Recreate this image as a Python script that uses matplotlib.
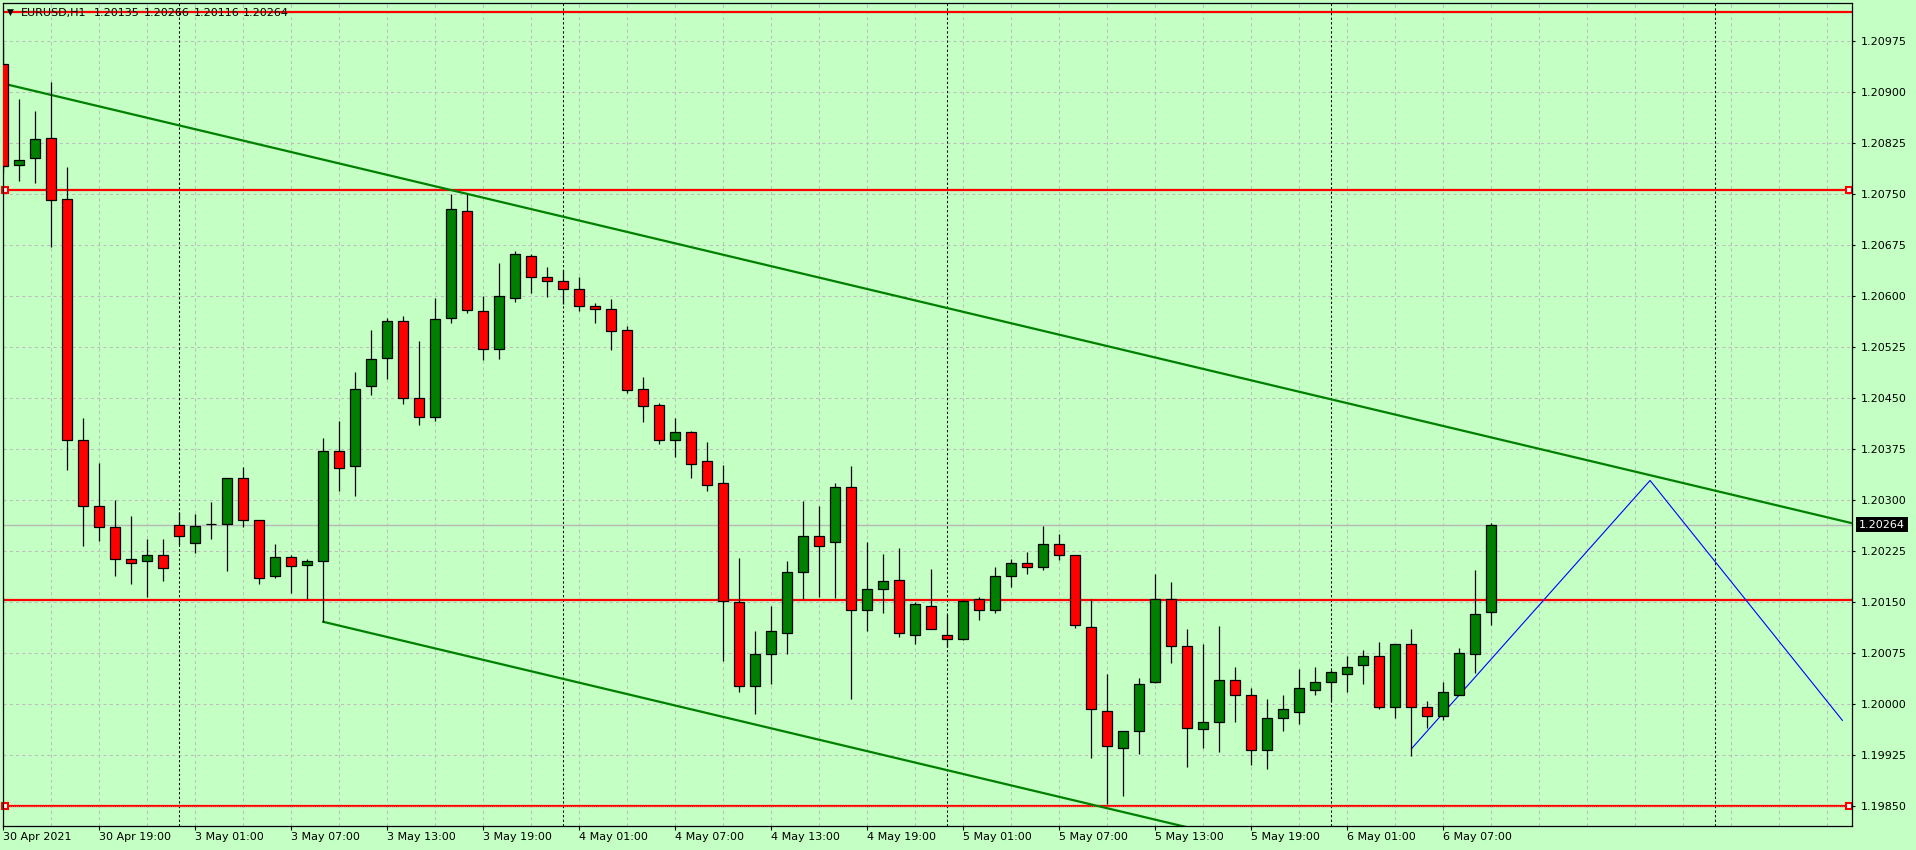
import matplotlib
matplotlib.use('Agg')
import matplotlib.pyplot as plt
import matplotlib.transforms as mtransforms
import numpy as np

# ---------------- data ----------------
opens = [1.20942, 1.20793, 1.20803, 1.20833, 1.20743, 1.20388, 1.20292, 1.20260, 1.20214, 1.20210,
         1.20220, 1.20264, 1.20237, 1.20265, 1.20265, 1.20332, 1.20271, 1.20188, 1.20217, 1.20204,
         1.20210, 1.20372, 1.20350, 1.20468, 1.20509, 1.20564, 1.20450, 1.20423, 1.20568, 1.20725,
         1.20578, 1.20522, 1.20597, 1.20659, 1.20628, 1.20622, 1.20611, 1.20585, 1.20582, 1.20551,
         1.20463, 1.20440, 1.20388, 1.20400, 1.20357, 1.20325, 1.20150, 1.20026, 1.20073, 1.20105,
         1.20195, 1.20248, 1.20238, 1.20320, 1.20139, 1.20169, 1.20182, 1.20102, 1.20145, 1.20101,
         1.20095, 1.20154, 1.20139, 1.20189, 1.20208, 1.20201, 1.20235, 1.20219, 1.20114, 1.19990,
         1.19936, 1.19961, 1.20032, 1.20155, 1.20086, 1.19964, 1.19973, 1.20035, 1.20014, 1.19933,
         1.19980, 1.19989, 1.20020, 1.20032, 1.20044, 1.20057, 1.20070, 1.19995, 1.20088, 1.19995,
         1.19983, 1.20014, 1.20073, 1.20135]
highs = [1.20972, 1.20891, 1.20872, 1.20916, 1.20790, 1.20421, 1.20354, 1.20300, 1.20277, 1.20243,
         1.20243, 1.20282, 1.20279, 1.20297, 1.20332, 1.20349, 1.20271, 1.20235, 1.20220, 1.20213,
         1.20391, 1.20416, 1.20488, 1.20550, 1.20568, 1.20571, 1.20534, 1.20598, 1.20750, 1.20751,
         1.20600, 1.20649, 1.20666, 1.20662, 1.20643, 1.20639, 1.20628, 1.20590, 1.20596, 1.20556,
         1.20481, 1.20443, 1.20421, 1.20402, 1.20385, 1.20352, 1.20215, 1.20108, 1.20144, 1.20210,
         1.20299, 1.20291, 1.20326, 1.20350, 1.20238, 1.20221, 1.20230, 1.20150, 1.20199, 1.20133,
         1.20153, 1.20157, 1.20201, 1.20214, 1.20223, 1.20262, 1.20250, 1.20219, 1.20154, 1.20044,
         1.19961, 1.20039, 1.20191, 1.20179, 1.20110, 1.20088, 1.20115, 1.20054, 1.20023, 1.20007,
         1.20014, 1.20051, 1.20054, 1.20050, 1.20070, 1.20079, 1.20092, 1.20089, 1.20111, 1.20004,
         1.20033, 1.20082, 1.20197, 1.20266]
lows = [1.20781, 1.20770, 1.20766, 1.20673, 1.20344, 1.20233, 1.20240, 1.20188, 1.20177, 1.20157,
        1.20181, 1.20234, 1.20222, 1.20243, 1.20196, 1.20260, 1.20176, 1.20186, 1.20163, 1.20154,
        1.20121, 1.20314, 1.20306, 1.20455, 1.20479, 1.20441, 1.20410, 1.20417, 1.20560, 1.20576,
        1.20506, 1.20508, 1.20591, 1.20605, 1.20599, 1.20588, 1.20578, 1.20560, 1.20521, 1.20457,
        1.20415, 1.20383, 1.20363, 1.20332, 1.20314, 1.20064, 1.20017, 1.19985, 1.20030, 1.20073,
        1.20155, 1.20158, 1.20156, 1.20008, 1.20107, 1.20134, 1.20098, 1.20088, 1.20111, 1.20084,
        1.20094, 1.20123, 1.20134, 1.20172, 1.20192, 1.20197, 1.20212, 1.20112, 1.19921, 1.19853,
        1.19865, 1.19926, 1.20031, 1.20061, 1.19908, 1.19936, 1.19930, 1.19973, 1.19910, 1.19905,
        1.19961, 1.19970, 1.20014, 1.20005, 1.20017, 1.20029, 1.19993, 1.19979, 1.19923, 1.19965,
        1.19976, 1.20014, 1.20045, 1.20116]
closes = [1.20792, 1.20800, 1.20831, 1.20741, 1.20388, 1.20292, 1.20260, 1.20214, 1.20207, 1.20220,
          1.20200, 1.20248, 1.20262, 1.20265, 1.20332, 1.20271, 1.20186, 1.20217, 1.20203, 1.20211,
          1.20372, 1.20348, 1.20463, 1.20507, 1.20564, 1.20450, 1.20422, 1.20566, 1.20729, 1.20580,
          1.20522, 1.20600, 1.20662, 1.20628, 1.20622, 1.20611, 1.20585, 1.20582, 1.20549, 1.20462,
          1.20439, 1.20388, 1.20400, 1.20353, 1.20323, 1.20151, 1.20027, 1.20073, 1.20107, 1.20194,
          1.20248, 1.20232, 1.20319, 1.20138, 1.20170, 1.20181, 1.20105, 1.20147, 1.20111, 1.20095,
          1.20152, 1.20139, 1.20189, 1.20207, 1.20202, 1.20235, 1.20219, 1.20117, 1.19992, 1.19939,
          1.19961, 1.20029, 1.20154, 1.20086, 1.19965, 1.19973, 1.20036, 1.20014, 1.19932, 1.19980,
          1.19992, 1.20024, 1.20032, 1.20047, 1.20055, 1.20070, 1.19995, 1.20088, 1.19995, 1.19983,
          1.20017, 1.20075, 1.20133, 1.20264]

time_label_idx = [0, 6, 12, 18, 24, 30, 36, 42, 48, 54, 60, 66, 72, 78, 84, 90]
time_labels = ["30 Apr 2021", "30 Apr 19:00", "3 May 01:00", "3 May 07:00", "3 May 13:00",
               "3 May 19:00", "4 May 01:00", "4 May 07:00", "4 May 13:00", "4 May 19:00",
               "5 May 01:00", "5 May 07:00", "5 May 13:00", "5 May 19:00", "6 May 01:00",
               "6 May 07:00"]
price_ticks = [1.19850, 1.19925, 1.20000, 1.20075, 1.20150, 1.20225, 1.20300, 1.20375,
               1.20450, 1.20525, 1.20600, 1.20675, 1.20750, 1.20825, 1.20900, 1.20975]
day_separators = [11, 35, 59, 83, 107]
red_levels = [1.21018, 1.20757, 1.20153, 1.19850]
upper_trend_x = [0.0, 115.56]
upper_trend_y = [1.20913, 1.20266]
lower_trend_x0, lower_trend_y0 = 20.0, 1.20121
zigzag_x = [88.0, 102.92, 114.94]
zigzag_y = [1.19934, 1.20329, 1.19976]
bid_price = 1.20264
title_parts = ["EURUSD,H1", "1.20135", "1.20266", "1.20116", "1.20264"]

# ---------------- style ----------------
BG = '#C4FFC4'
GREEN = '#008000'
RED = '#FF0000'
GRID = '#BEBEBE'
W, H = 1916, 850
XMIN, XMAX = -0.0375, 115.56
YMIN, YMAX = 1.19821, 1.21032

plt.rcParams['font.family'] = ['DejaVu Sans']

fig = plt.figure(figsize=(W / 100, H / 100), dpi=100, facecolor=BG)
ax = fig.add_axes([2.7 / W, 1 - 825.7 / H, (1852.3 - 2.7) / W, (825.7 - 2.7) / H])
ax.set_facecolor(BG)
ax.set_xlim(XMIN, XMAX)
ax.set_ylim(YMIN, YMAX)

# grid
for gx in range(0, 116, 3):
    ax.axvline(gx, color=GRID, lw=0.75, ls=(0, (3, 3)), zorder=1)
for gy in price_ticks:
    ax.axhline(gy, color=GRID, lw=0.75, ls=(0, (3, 3)), zorder=1)
for dx in day_separators:
    ax.axvline(dx, color='black', lw=0.75, ls=(0, (2.2, 2.2)), zorder=1.5)

# bid line
ax.axhline(bid_price, color='#B8B8B8', lw=1.0, zorder=1.6)

# red horizontal levels
for lv in red_levels:
    ax.axhline(lv, color=RED, lw=1.6, zorder=2)
ax.axhline(red_levels[3], color='white', lw=0.5, ls=(0, (1.2, 1.8)), alpha=0.6, zorder=2.1)
for lv in (red_levels[1], red_levels[3]):
    ax.plot([0.1, 115.36], [lv, lv], ls='none', marker='s', ms=4.5, mfc='white',
            mec=RED, mew=1.5, zorder=2.2, clip_on=False)

# trend channel
slope = (upper_trend_y[1] - upper_trend_y[0]) / (upper_trend_x[1] - upper_trend_x[0])
ax.plot(upper_trend_x, upper_trend_y, color=GREEN, lw=1.6, zorder=2.5)
lx = [lower_trend_x0, XMAX]
ly = [lower_trend_y0, lower_trend_y0 + slope * (XMAX - lower_trend_x0)]
ax.plot(lx, ly, color=GREEN, lw=1.6, zorder=2.5)

# zigzag
ax.plot(zigzag_x, zigzag_y, color='#0000FF', lw=0.8, zorder=2.6)

# candles
xs = np.arange(len(opens))
o = np.array(opens); h = np.array(highs); l = np.array(lows); c = np.array(closes)
cols = [GREEN if cc > oo else RED for oo, cc in zip(o, c)]
ax.vlines(xs, l, h, color='black', lw=0.9, zorder=3)
bottoms = np.minimum(o, c)
heights = np.abs(c - o)
ax.bar(xs, heights, bottom=bottoms, width=0.62, color=cols, edgecolor='black',
       linewidth=0.9, zorder=4)

# axes / ticks
for sp in ax.spines.values():
    sp.set_color('black')
    sp.set_linewidth(0.9)
ax.yaxis.tick_right()
ax.set_yticks(price_ticks)
ax.set_yticklabels([f"{v:.5f}" for v in price_ticks])
ax.tick_params(axis='y', direction='out', length=2, width=0.8, pad=4.5, labelsize=8,
               colors='black')
ax.set_xticks(time_label_idx)
ax.set_xticklabels(time_labels, ha='left')
ax.tick_params(axis='x', direction='out', length=3, width=0.8, pad=1.5, labelsize=8,
               colors='black')
for lab in ax.get_xticklabels():
    lab.set_horizontalalignment('left')

# bid price label box
trans = mtransforms.blended_transform_factory(ax.transAxes, ax.transData)
ax.text(1.0 + 6.5 / 1849.6, bid_price, f"{bid_price:.5f}", transform=trans, ha='left',
        va='center', fontsize=8, color='white', clip_on=False, zorder=10,
        bbox=dict(boxstyle='square,pad=0.25', facecolor='black', edgecolor='none'))

# title
fig.text(6.5 / W, 1 - 12.5 / H, '\u25BC', fontsize=6.5, va='center', ha='left', color='black')
title_x = [21, 94.3, 144, 194, 243.3]
for tx, tp in zip(title_x, title_parts):
    fig.text(tx / W, 1 - 12.7 / H, tp, fontsize=8, va='center', ha='left', color='black',
             zorder=20)

fig.savefig('out.png', dpi=100, facecolor=BG)
